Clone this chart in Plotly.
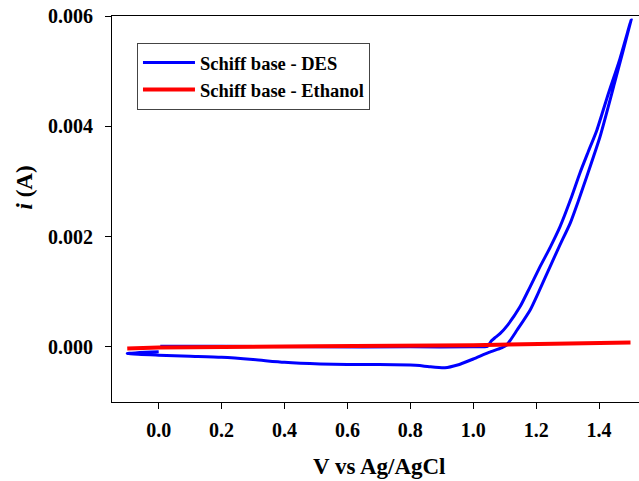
import plotly.graph_objects as go

# Schiff base - DES cyclic voltammogram (V vs Ag/AgCl, current in A)
des_v = [0.005, 0.2, 0.5, 0.8, 1.0, 1.045, 1.052, 1.058, 1.07, 1.085, 1.11, 1.149, 1.18, 1.212,
         1.245, 1.276, 1.31, 1.339, 1.365, 1.393, 1.43, 1.465, 1.502,
         1.45, 1.403, 1.361, 1.335, 1.308, 1.275, 1.244, 1.21, 1.181, 1.14, 1.106, 1.09, 1.05,
         1.0, 0.95, 0.91, 0.86, 0.83, 0.8, 0.7, 0.6, 0.513, 0.4, 0.3, 0.2, 0.1, 0.0, -0.1, 0.0]
des_i = [0.00001, 0.00001, 0.0, 0.0, 0.0, 0.00001, 0.00006, 0.00011, 0.00017, 0.00024, 0.00040,
         0.00073, 0.00108, 0.00145,
         0.00181, 0.00218, 0.00268, 0.00315, 0.00353, 0.00393, 0.0046, 0.0052, 0.00593,
         0.0048, 0.00381, 0.00309, 0.00266, 0.00224, 0.00184, 0.00145, 0.00102, 0.00067, 0.00031,
         0.00003, -0.00002, -0.0001,
         -0.00022, -0.00033, -0.00038, -0.00036, -0.00034, -0.00033, -0.00032, -0.00032, -0.00031,
         -0.00028, -0.00023, -0.00019, -0.00017, -0.00015, -0.00012, -0.00009]

# Schiff base - Ethanol
eth_v = [-0.1, 0.0, 0.5, 1.0, 1.5]
eth_i = [-0.00003, -0.00001, 0.00001, 0.00003, 0.00008]

x_ticks = [0.0, 0.2, 0.4, 0.6, 0.8, 1.0, 1.2, 1.4]
x_ticktext = ["0.0", "0.2", "0.4", "0.6", "0.8", "1.0", "1.2", "1.4"]
y_ticks = [0.0, 0.002, 0.004, 0.006]
y_ticktext = ["0.000", "0.002", "0.004", "0.006"]

FONT = "Liberation Serif"

fig = go.Figure()
fig.add_trace(go.Scatter(x=des_v, y=des_i, mode="lines", name="Schiff base - DES",
                         line=dict(color="#0000FF", width=3, shape="spline", smoothing=0.6)))
fig.add_trace(go.Scatter(x=eth_v, y=eth_i, mode="lines", name="Schiff base - Ethanol",
                         line=dict(color="#FF0000", width=4)))

fig.update_layout(
    width=639, height=481,
    margin=dict(l=112, r=0, t=16, b=79),
    paper_bgcolor="white", plot_bgcolor="white",
    font=dict(family=FONT, color="black"),
    showlegend=True,
    legend=dict(x=0.0474, y=0.930, xanchor="left", yanchor="top",
                bgcolor="white", bordercolor="#444", borderwidth=1,
                font=dict(family=FONT, size=18.5, color="black", weight="bold"),
                itemwidth=52, tracegroupgap=0),
    xaxis=dict(range=[-0.1485, 1.527], tickvals=x_ticks, ticktext=x_ticktext,
               showgrid=False, zeroline=False, showline=True, linecolor="black", linewidth=1,
               mirror=True, ticks="outside", ticklen=6, tickcolor="black",
               tickfont=dict(family=FONT, size=20, weight="bold"), ticklabelstandoff=4),
    yaxis=dict(range=[-0.001, 0.006], tickvals=y_ticks, ticktext=y_ticktext,
               showgrid=False, zeroline=False, showline=True, linecolor="black", linewidth=1,
               ticks="outside", ticklen=6, tickcolor="black",
               tickfont=dict(family=FONT, size=20, weight="bold"), ticklabelstandoff=8),
    annotations=[
        dict(text="V vs Ag/AgCl", xref="paper", yref="paper", x=0.5, y=-0.168,
             xanchor="center", yanchor="middle", showarrow=False, xshift=4,
             font=dict(family=FONT, size=23, weight="bold")),
        dict(text="<i>i</i> (A)", xref="paper", yref="paper", x=0, y=0.5557,
             xanchor="center", yanchor="middle", showarrow=False, textangle=-90, xshift=-88,
             font=dict(family=FONT, size=23, weight="bold")),
    ],
)

fig.write_html("out.html")
